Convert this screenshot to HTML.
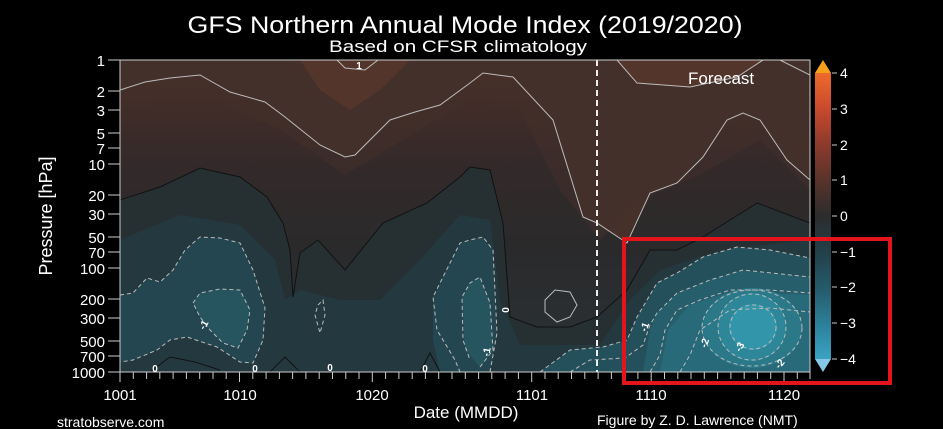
<!DOCTYPE html>
<html><head><meta charset="utf-8"><style>
html,body{margin:0;padding:0;background:#000;}
svg{display:block;}
text{font-family:"Liberation Sans",sans-serif;fill:#fff;}
</style></head><body>
<svg width="943" height="429" viewBox="0 0 943 429" xmlns="http://www.w3.org/2000/svg">
<defs>
<clipPath id="pc"><rect x="120" y="60" width="690" height="312"/></clipPath>
<linearGradient id="bg" x1="0" y1="0" x2="0" y2="1">
<stop offset="0" stop-color="#4a2f27"/><stop offset="0.35" stop-color="#33292a"/><stop offset="0.6" stop-color="#2a2a2b"/><stop offset="1" stop-color="#2a3236"/>
</linearGradient>
<linearGradient id="cb" x1="0" y1="0" x2="0" y2="1">
<stop offset="0" stop-color="#ee6a2c"/><stop offset="0.125" stop-color="#c84a2c"/><stop offset="0.25" stop-color="#8c3a2c"/><stop offset="0.375" stop-color="#58332b"/><stop offset="0.5" stop-color="#2c2c2c"/><stop offset="0.625" stop-color="#223f48"/><stop offset="0.75" stop-color="#255a6a"/><stop offset="0.875" stop-color="#2b7f98"/><stop offset="1" stop-color="#3aa3c2"/>
</linearGradient>
</defs>
<text x="465" y="33" font-size="24" text-anchor="middle" textLength="555" lengthAdjust="spacingAndGlyphs">GFS Northern Annual Mode Index (2019/2020)</text>
<text x="458" y="52" font-size="17" text-anchor="middle" textLength="258" lengthAdjust="spacingAndGlyphs">Based on CFSR climatology</text>
<g clip-path="url(#pc)">
<rect x="120" y="60" width="690" height="312" fill="url(#bg)"/>
<!-- brown above contour 1 -->
<path d="M120,60 L120,90 L145,82 L170,78 L200,75 L230,92 L265,102 L285,117 L320,145 L345,157 L355,155 L390,120 L415,112 L440,105 L470,83 L483,73 L513,77 L553,120 L583,217 L597,223 L627,243 L650,193 L677,183 L703,157 L727,120 L743,113 L760,120 L787,160 L810,180 L810,60 Z" fill="#45302a"/>
<path d="M120,60 L120,110 L200,95 L280,130 L345,175 L420,130 L470,100 L520,110 L560,190 L600,240 L640,200 L700,175 L760,140 L810,190 L810,60 Z" fill="#43302a" opacity="0.5"/>
<path d="M300,60 L320,90 L350,110 L380,90 L410,60 Z M617,60 L637,83 L690,87 L737,77 L763,60 Z" fill="#54352b"/>
<!-- teal below 0 contour -->
<path d="M120,200 L160,187 L200,168 L240,177 L267,197 L283,223 L290,250 L293,297 L300,253 L318,240 L345,270 L383,223 L427,203 L460,177 L470,167 L490,170 L503,223 L510,317 L537,327 L570,327 L597,317 L627,290 L650,250 L677,250 L703,237 L757,203 L810,223 L810,372 L120,372 Z" fill="#263033"/>
<path d="M120,240 L180,215 L240,225 L275,260 L285,300 L300,290 L340,300 L380,300 L420,260 L460,215 L490,220 L500,300 L520,345 L600,345 L630,300 L660,270 L720,250 L810,240 L810,372 L120,372 Z" fill="#24393f"/>
<!-- -1 blobs -->
<path d="M120,295 L133,293 L147,278 L160,282 L173,270 L185,250 L200,237 L220,238 L240,243 L253,270 L265,308 L263,340 L253,363 L240,362 L217,347 L187,337 L170,340 L157,350 L133,360 L120,362 Z" fill="#244650"/>
<path d="M193,303 L200,293 L220,289 L240,290 L250,310 L247,330 L238,348 L223,343 L210,330 L200,317 Z" fill="#26545f"/>
<path d="M433,297 L450,263 L460,243 L470,240 L483,237 L493,250 L497,333 L490,372 L440,372 L433,340 Z" fill="#244650"/>
<path d="M462,297 L470,283 L480,277 L490,303 L493,350 L480,367 L465,350 Z" fill="#26545f"/>
<path d="M540,372 L570,350 L603,347 L627,340 L637,317 L657,283 L677,273 L703,257 L737,247 L770,250 L810,258 L810,372 Z" fill="#24505b"/>
<path d="M643,372 L650,330 L657,313 L677,293 L710,280 L743,270 L810,277 L810,372 Z" fill="#275e6b"/>
<path d="M660,372 L668,330 L690,305 L730,292 L810,295 L810,372 Z" fill="#286a7a"/>
<ellipse cx="752" cy="328" rx="50" ry="40" fill="#2b7888"/>
<ellipse cx="752" cy="327" rx="34" ry="34" fill="#2e8699"/>
<ellipse cx="753" cy="327" rx="24" ry="23" fill="#3395aa"/>
<!-- contour lines -->
<g fill="none" stroke-width="1">
<path d="M120,90 L145,82 L170,78 L200,75 L230,92 L265,102 L285,117 L320,145 L345,157 L355,155 L390,120 L415,112 L440,105 L470,83 L483,73 L513,77 L553,120 L583,217 L597,223 L627,243 L650,193 L677,183 L703,157 L727,120 L743,113 L760,120 L787,160 L810,180" stroke="#bbb"/>
<path d="M617,60 L637,83 L690,87 L737,77 L763,60 M337,60 L345,68 L365,70 L378,60 M780,60 L810,75" stroke="#bbb"/>
<path d="M545,300 L555,290 L570,292 L577,305 L570,317 L557,322 L545,312 Z" stroke="#bbb"/>
<path d="M120,200 L160,187 L200,168 L240,177 L267,197 L283,223 L290,250 L293,297 L300,253 L318,240 L345,270 L383,223 L427,203 L460,177 L470,167 L490,170 L503,223 L510,317 L537,327 L570,327 L597,317 L627,290 L650,250 L677,250 L703,237 L757,203 L810,223" stroke="#111"/>
<path d="M150,372 L170,357 L195,362 L220,370 M270,372 L285,357 L300,372 M420,372 L430,353 L440,372" stroke="#111"/>
<g stroke="#bbb" stroke-dasharray="4,3">
<path d="M120,295 L133,293 L147,278 L160,282 L173,270 L185,250 L200,237 L220,238 L240,243 L253,270 L265,308 L263,340 L253,363 L240,362 L217,347 L187,337 L170,340 L157,350 L133,360 L120,362"/>
<path d="M193,303 L200,293 L220,289 L240,290 L250,310 L247,330 L238,348 L223,343 L210,330 L200,317 Z"/>
<path d="M318,305 L323,300 L325,315 L320,333 L315,315 Z"/>
<path d="M490,372 L497,333 L493,250 L483,237 L470,240 L460,243 L450,263 L433,297 L437,330 L455,360 L460,372"/>
<path d="M480,367 L493,350 L490,303 L480,277 L470,283 L462,297 L463,340 L470,360"/>
<path d="M540,372 L570,350 L603,347 L627,340 L637,317 L657,283 L677,273 L703,257 L737,247 L770,250 L810,258"/>
<path d="M570,372 L590,360 L625,358 L643,345 L650,325 L657,313 L677,293 L710,280 L743,270 L810,277"/>
<path d="M650,372 L660,355 L665,330 L677,310 L700,300 L730,290 L770,290 L810,293"/>
<path d="M680,372 L690,355 L700,330 L730,310 L770,308 L810,312"/>
<ellipse cx="752" cy="328" rx="50" ry="38"/>
<ellipse cx="752" cy="327" rx="34" ry="33"/>
<ellipse cx="753" cy="327" rx="23" ry="22"/>
</g>
</g>
<line x1="597" y1="60" x2="597" y2="372" stroke="#eee" stroke-width="2" stroke-dasharray="6,4"/>
</g>
<rect x="120" y="60" width="690" height="312" fill="none" stroke="#ccc" stroke-width="1"/>
<text x="688" y="84" font-size="17">Forecast</text>
<g font-size="10" font-weight="bold" text-anchor="middle">
<text x="359" y="69">1</text><text x="204" y="328" transform="rotate(-60 204 325)">-1</text><text x="505" y="313" transform="rotate(90 505 310)">0</text>
<text x="487" y="355" transform="rotate(-80 487 352)">-1</text><text x="645" y="330" transform="rotate(-70 645 327)">-1</text>
<text x="705" y="346" transform="rotate(-70 705 343)">-2</text><text x="740" y="350" transform="rotate(-60 740 347)">-3</text><text x="780" y="367" transform="rotate(-50 780 364)">-2</text>
<text x="155" y="372">0</text><text x="255" y="372">0</text><text x="330" y="371">0</text><text x="425" y="372">0</text>
</g>
<!-- y axis -->
<g stroke="#ccc" stroke-width="1">
<line x1="108" y1="60" x2="120" y2="60"/><line x1="108" y1="91" x2="120" y2="91"/><line x1="108" y1="110" x2="120" y2="110"/><line x1="108" y1="133" x2="120" y2="133"/><line x1="108" y1="148" x2="120" y2="148"/><line x1="108" y1="164" x2="120" y2="164"/><line x1="108" y1="195" x2="120" y2="195"/><line x1="108" y1="214" x2="120" y2="214"/><line x1="108" y1="237" x2="120" y2="237"/><line x1="108" y1="252" x2="120" y2="252"/><line x1="108" y1="268" x2="120" y2="268"/><line x1="108" y1="299" x2="120" y2="299"/><line x1="108" y1="318" x2="120" y2="318"/><line x1="108" y1="341" x2="120" y2="341"/><line x1="108" y1="356" x2="120" y2="356"/><line x1="108" y1="372" x2="120" y2="372"/>
</g>
<g font-size="15" text-anchor="end">
<text x="105" y="66">1</text><text x="105" y="97">2</text><text x="105" y="116">3</text><text x="105" y="139">5</text><text x="105" y="154">7</text><text x="105" y="170">10</text><text x="105" y="201">20</text><text x="105" y="220">30</text><text x="105" y="243">50</text><text x="105" y="258">70</text><text x="105" y="274">100</text><text x="105" y="305">200</text><text x="105" y="324">300</text><text x="105" y="347">500</text><text x="105" y="362">700</text><text x="105" y="378">1000</text>
</g>
<text x="52" y="216" font-size="18" text-anchor="middle" transform="rotate(-90 52 216)">Pressure [hPa]</text>
<!-- x axis -->
<g stroke="#ccc" stroke-width="1" id="xt">
<path d="M120,372v10M133.3,372v7M146.6,372v7M159.8,372v7M173.1,372v7M186.4,372v7M199.7,372v7M213,372v7M226.2,372v7M239.5,372v10M252.8,372v7M266.1,372v7M279.4,372v7M292.6,372v7M305.9,372v7M319.2,372v7M332.5,372v7M345.8,372v7M359,372v7M372.3,372v10M385.6,372v7M398.9,372v7M412.2,372v7M425.4,372v7M438.7,372v7M452,372v7M465.3,372v7M478.6,372v7M491.8,372v7M505.1,372v7M518.4,372v7M531.7,372v10M545,372v7M558.2,372v7M571.5,372v7M584.8,372v7M598.1,372v7M611.4,372v7M624.6,372v7M637.9,372v7M651.2,372v10M664.5,372v7M677.8,372v7M691,372v7M704.3,372v7M717.6,372v7M730.9,372v7M744.2,372v7M757.4,372v7M770.7,372v7M784,372v10M797.3,372v7M810,372v7"/>
</g>
<g font-size="15" text-anchor="middle">
<text x="120" y="400">1001</text><text x="240" y="400">1010</text><text x="372" y="400">1020</text><text x="532" y="400">1101</text><text x="651" y="400">1110</text><text x="784" y="400">1120</text>
</g>
<text x="466" y="418" font-size="17" text-anchor="middle">Date (MMDD)</text>
<text x="57" y="427" font-size="14">stratobserve.com</text>
<text x="597" y="425" font-size="14">Figure by Z. D. Lawrence (NMT)</text>
<!-- colorbar -->
<polygon points="815,73 823,60 831,73" fill="#f6a01a"/>
<rect x="815" y="73" width="16" height="286" fill="url(#cb)"/>
<polygon points="815,359 823,372 831,359" fill="#86c8e6"/>
<g stroke="#ccc"><path d="M832,73h5M832,109h5M832,145h5M832,180h5M832,216h5M832,252h5M832,287h5M832,323h5M832,359h5"/></g>
<g font-size="14"><text x="840" y="78">4</text><text x="840" y="114">3</text><text x="840" y="150">2</text><text x="840" y="185">1</text><text x="840" y="221">0</text><text x="840" y="257">−1</text><text x="840" y="292">−2</text><text x="840" y="328">−3</text><text x="840" y="364">−4</text></g>
<rect x="624" y="239" width="266" height="144" fill="none" stroke="#e3141b" stroke-width="4"/>
</svg>
</body></html>
